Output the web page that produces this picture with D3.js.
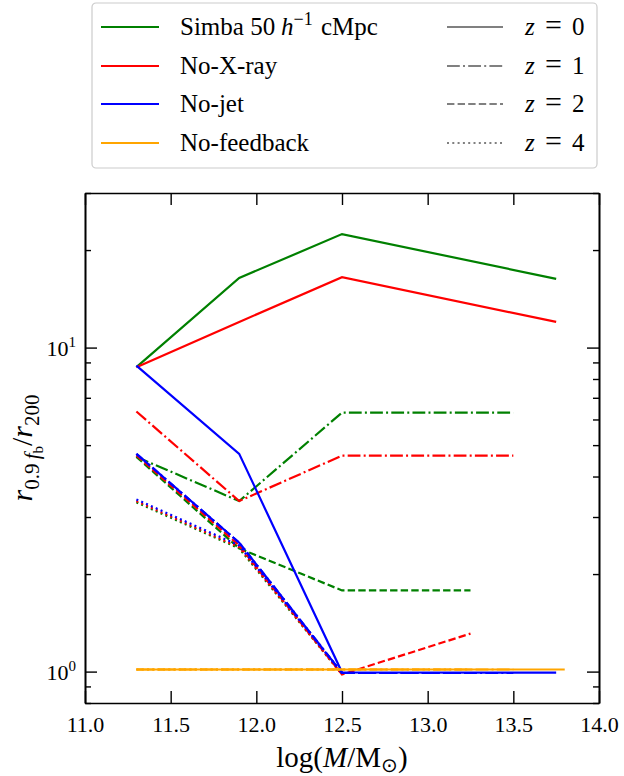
<!DOCTYPE html>
<html>
<head>
<meta charset="utf-8">
<script src="https://cdn.jsdelivr.net/npm/d3@7"></script>
<style>
body { margin: 0; background: #fff; }
svg text { font-family: "Liberation Serif", "Times New Roman", serif; fill: #000; }
</style>
</head>
<body>
<svg id="grafico"></svg>
<script>
// massas (log M) por redshift
var xZ0 = [11.3, 11.9, 12.5, 13.75];
var xZ1 = [11.3, 11.9, 12.5, 13.5];
var xZ2 = [11.3, 11.9, 12.5, 13.25];
var xZ4 = [11.3, 11.9, 12.5];
var xSemFeedbackZ0 = [11.3, 11.9, 12.5, 13.8];

// r_0.9fb / r200 por modelo e redshift
var simbaZ0 = [8.7, 16.4, 22.4, 16.3];
var simbaZ1 = [4.6, 3.36, 6.3, 6.3];
var simbaZ2 = [4.6, 2.4, 1.78, 1.78];
var simbaZ4 = [3.33, 2.4, 0.98];

var semXZ0 = [8.7, 12.0, 16.5, 12.0];
var semXZ1 = [6.35, 3.36, 4.64, 4.64];
var semXZ2 = [4.65, 2.45, 0.98, 1.31];
var semXZ4 = [3.36, 2.42, 0.98];

var semJatoZ0 = [8.8, 4.7, 0.995, 0.993];
var semJatoZ1 = [4.7, 2.5, 0.99, 0.99];
var semJatoZ2 = [4.7, 2.5, 0.99, 0.99];
var semJatoZ4 = [3.4, 2.45, 0.99];

var semFeedbackZ0 = [1.015, 1.015, 1.015, 1.015];
var semFeedbackZ1 = [1.015, 1.015, 1.015, 1.015];
var semFeedbackZ2 = [1.015, 1.015, 1.015, 1.015];
var semFeedbackZ4 = [1.015, 1.015, 1.015];

var modelos = ['Simba', 'No-X-ray', 'No-jet', 'No-feedback'];
var redshifts = [0, 1, 2, 4];
var xTicks = [11.0, 11.5, 12.0, 12.5, 13.0, 13.5, 14.0];
var yTicksMaiores = [1, 10];
var yTicksMenores = [0.8, 0.9, 2, 3, 4, 5, 6, 7, 8, 9, 20, 30];

var cores = { 'Simba': '#008000', 'No-X-ray': '#ff0000', 'No-jet': '#0000ff', 'No-feedback': '#ffa500' };
var tracos = { 0: null, 1: '12.8,3.2,2,3.2', 2: '7.4,3.2', 4: '2,3.3' };

var series = [
    { modelo: 'Simba', z: 0, x: xZ0, y: simbaZ0 },
    { modelo: 'Simba', z: 1, x: xZ1, y: simbaZ1 },
    { modelo: 'Simba', z: 2, x: xZ2, y: simbaZ2 },
    { modelo: 'Simba', z: 4, x: xZ4, y: simbaZ4 },
    { modelo: 'No-X-ray', z: 0, x: xZ0, y: semXZ0 },
    { modelo: 'No-X-ray', z: 1, x: xZ1, y: semXZ1 },
    { modelo: 'No-X-ray', z: 2, x: xZ2, y: semXZ2 },
    { modelo: 'No-X-ray', z: 4, x: xZ4, y: semXZ4 },
    { modelo: 'No-jet', z: 0, x: xZ0, y: semJatoZ0 },
    { modelo: 'No-jet', z: 1, x: xZ1, y: semJatoZ1 },
    { modelo: 'No-jet', z: 2, x: xZ2, y: semJatoZ2 },
    { modelo: 'No-jet', z: 4, x: xZ4, y: semJatoZ4 },
    { modelo: 'No-feedback', z: 0, x: xSemFeedbackZ0, y: semFeedbackZ0 },
    { modelo: 'No-feedback', z: 1, x: xZ1, y: semFeedbackZ1 },
    { modelo: 'No-feedback', z: 2, x: xZ2, y: semFeedbackZ2 },
    { modelo: 'No-feedback', z: 4, x: xZ4, y: semFeedbackZ4 }
];

//Seleção do SVG e margens
var largura = 624, altura = 776;
var svg = d3.select('#grafico').attr('width', largura).attr('height', altura);
var margem = { esquerda: 85, direita: 25, superior: 193, inferior: 73 };
var larguraPlotagem = largura - margem.esquerda - margem.direita;
var alturaPlotagem = altura - margem.superior - margem.inferior;

var plotagem = svg.append('g')
    .attr('transform', 'translate(' + margem.esquerda + ',' + margem.superior + ')');

//Escalas
var x = d3.scaleLinear().domain([11, 14]).range([0, larguraPlotagem]);
var y = d3.scaleLog().domain([0.8, 30]).range([alturaPlotagem, 0]);

//Linhas dos dados
var linha = d3.line()
    .x(d => x(d[0]))
    .y(d => y(d[1]));

plotagem.selectAll('.serie')
    .data(series)
    .enter()
    .append('path')
    .classed('serie', true)
    .attr('d', s => linha(s.x.map((v, i) => [v, s.y[i]])))
    .attr('fill', 'none')
    .attr('stroke', s => cores[s.modelo])
    .attr('stroke-width', 2.2)
    .attr('stroke-dasharray', s => tracos[s.z]);

//Eixos (ticks para dentro nos quatro lados)
function estiloEixo(g) {
    g.attr('font-family', null);
    g.select('.domain').attr('stroke', '#000').attr('stroke-width', 1.6);
    g.selectAll('.tick line').attr('stroke', '#000').attr('stroke-width', 1.4);
}

plotagem.append('g')
    .attr('transform', 'translate(0,' + alturaPlotagem + ')')
    .call(d3.axisBottom(x).tickValues(xTicks).tickSizeInner(-12).tickSizeOuter(0)
        .tickPadding(13).tickFormat(d3.format('.1f')))
    .call(estiloEixo)
    .selectAll('text')
    .style('font-size', '22px');

plotagem.append('g')
    .call(d3.axisTop(x).tickValues(xTicks).tickSizeInner(-12).tickSizeOuter(0).tickFormat(''))
    .call(estiloEixo);

var eixoY = plotagem.append('g')
    .call(d3.axisLeft(y).tickValues(yTicksMaiores).tickSizeInner(-12).tickSizeOuter(0).tickPadding(10).tickFormat(''))
    .call(estiloEixo);
eixoY.selectAll('.tick text').remove();
eixoY.selectAll('.tick').append('text')
    .attr('x', -9)
    .attr('dy', '0.35em')
    .attr('text-anchor', 'end')
    .style('font-size', '22px')
    .each(function(d) {
        var t = d3.select(this);
        t.append('tspan').text('10');
        t.append('tspan').attr('dy', -9).style('font-size', '15px').text(Math.round(Math.log10(d)));
    });

plotagem.append('g')
    .call(d3.axisLeft(y).tickValues(yTicksMenores).tickSizeInner(-6).tickSizeOuter(0).tickFormat(''))
    .call(estiloEixo);

plotagem.append('g')
    .attr('transform', 'translate(' + larguraPlotagem + ',0)')
    .call(d3.axisRight(y).tickValues(yTicksMaiores).tickSizeInner(-12).tickSizeOuter(0).tickFormat(''))
    .call(estiloEixo);
plotagem.append('g')
    .attr('transform', 'translate(' + larguraPlotagem + ',0)')
    .call(d3.axisRight(y).tickValues(yTicksMenores).tickSizeInner(-6).tickSizeOuter(0).tickFormat(''))
    .call(estiloEixo);

//Títulos dos eixos
var tituloX = plotagem.append('text')
    .attr('x', larguraPlotagem / 2)
    .attr('y', alturaPlotagem + 64)
    .attr('text-anchor', 'middle')
    .style('font-size', '29px');
tituloX.append('tspan').text('log(');
tituloX.append('tspan').style('font-style', 'italic').text('M');
tituloX.append('tspan').text('/M');
tituloX.append('tspan').attr('dy', 5).style('font-size', '20px').text('\u2299');
tituloX.append('tspan').attr('dy', -5).text(')');

var tituloY = plotagem.append('text')
    .attr('transform', 'translate(-53,' + alturaPlotagem / 2 + ') rotate(-90)')
    .attr('text-anchor', 'middle')
    .style('font-size', '30px');
tituloY.append('tspan').style('font-style', 'italic').text('r');
tituloY.append('tspan').attr('dy', 7).style('font-size', '21px').text('0.9');
tituloY.append('tspan').style('font-size', '21px').style('font-style', 'italic').text('\u2009f');
tituloY.append('tspan').attr('dy', 4).style('font-size', '15px').text('b');
tituloY.append('tspan').attr('dy', -11).text('/');
tituloY.append('tspan').style('font-style', 'italic').text('r');
tituloY.append('tspan').attr('dy', 7).style('font-size', '21px').text('200');

//Legenda
var legenda = svg.append('g');
legenda.append('rect')
    .attr('x', 92).attr('y', 3)
    .attr('width', 505).attr('height', 165)
    .attr('rx', 4)
    .attr('fill', '#fff')
    .attr('stroke', '#cccccc')
    .attr('stroke-width', 1.2);

var linhasLegenda = [27, 66, 104, 143];

modelos.forEach(function(m, i) {
    var yl = linhasLegenda[i];
    legenda.append('line')
        .attr('x1', 101).attr('x2', 159).attr('y1', yl).attr('y2', yl)
        .attr('stroke', cores[m]).attr('stroke-width', 2);
    var t = legenda.append('text')
        .attr('x', 180).attr('y', yl + 8)
        .style('font-size', '25px');
    if (m === 'Simba') {
        t.append('tspan').text('Simba 50');
        t.append('tspan').attr('x', 281).style('font-style', 'italic').text('h');
        t.append('tspan').attr('dy', -10).style('font-size', '18px').text('\u22121');
        t.append('tspan').attr('x', 321).attr('dy', 10).text('cMpc');
    } else {
        t.text(m);
    }
});

redshifts.forEach(function(z, i) {
    var yl = linhasLegenda[i];
    legenda.append('line')
        .attr('x1', 447).attr('x2', 503).attr('y1', yl).attr('y2', yl)
        .attr('stroke', '#808080').attr('stroke-width', 2)
        .attr('stroke-dasharray', tracos[z]);
    var t = legenda.append('text')
        .attr('y', yl + 8)
        .style('font-size', '25px');
    t.append('tspan').attr('x', 525).style('font-style', 'italic').text('z');
    t.append('tspan').attr('x', 545).style('font-size', '30px').text('=');
    t.append('tspan').attr('x', 572).text(z);
});
</script>
</body>
</html>
